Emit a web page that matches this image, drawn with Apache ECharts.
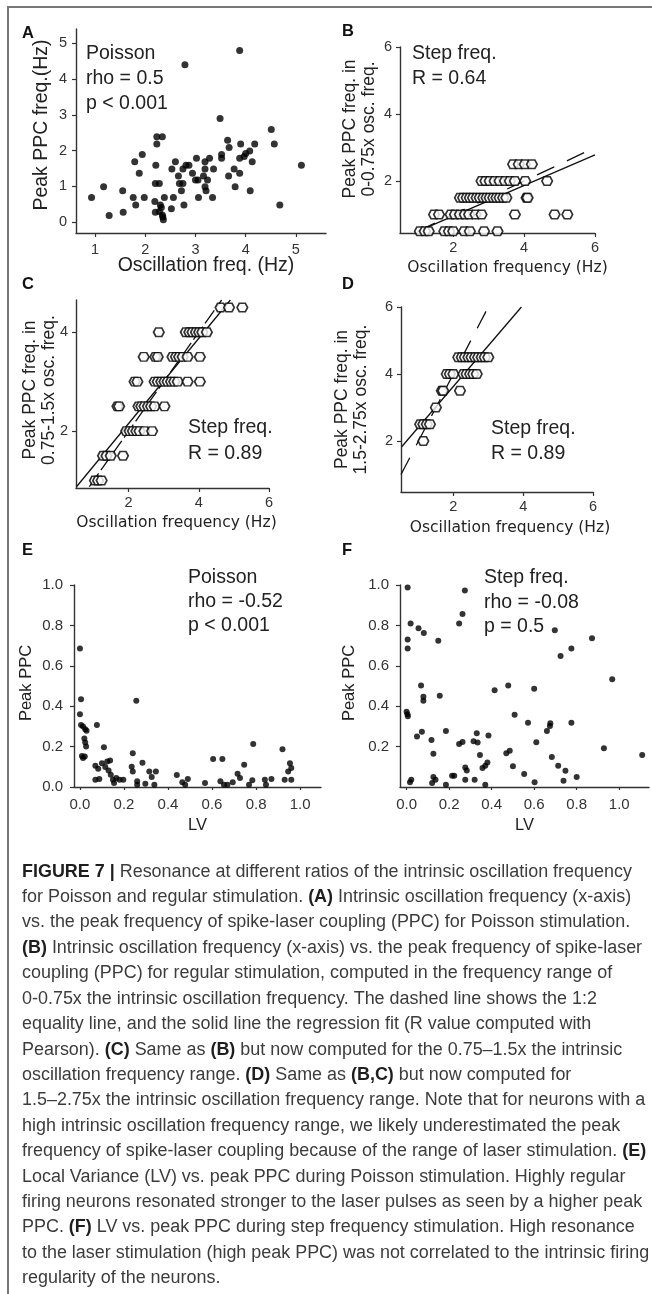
<!DOCTYPE html>
<html>
<head>
<meta charset="utf-8">
<script src="https://cdn.jsdelivr.net/npm/echarts@6/dist/echarts.min.js"></script>
<style>
  html, body { margin: 0; padding: 0; background: #fff; }
  #fig { width: 652px; height: 1294px; }
</style>
</head>
<body>
<div id="fig"></div>
<script>
// ---- data ----
// A: Poisson, oscillation freq vs peak PPC freq
var aOsc = [3.88,2.79,3.49,4.51,2.23,2.34,2.23,3.64,3.67,3.90,4.18,4.57,1.94,4.08,4.00,3.97,3.88,3.52,3.52,3.28,3.02,3.19,2.60,1.79,4.13,5.11,2.21,2.81,2.87,2.75,2.53,3.19,3.36,3.77,1.88,2.94,3.16,2.66,3.66,3.88,3.00,3.05,3.24,2.20,2.28,2.68,2.75,1.17,2.72,3.19,3.21,3.79,1.55,4.09,0.93,1.76,1.98,2.38,2.56,3.06,3.34,2.19,1.81,2.30,2.77,4.68,2.52,1.56,2.20,2.28,1.28,2.34,2.36,2.32,2.35];
var aPeak = [4.80,4.40,2.90,2.59,2.39,2.39,2.19,2.29,2.09,2.19,2.19,2.19,1.89,1.99,1.92,1.84,1.79,1.89,1.79,1.79,1.79,1.69,1.69,1.69,1.69,1.59,1.59,1.59,1.59,1.49,1.49,1.49,1.49,1.49,1.37,1.37,1.29,1.29,1.29,1.37,1.18,1.18,1.18,1.08,1.08,1.08,1.08,0.99,0.88,0.99,0.88,0.99,0.88,0.88,0.69,0.69,0.69,0.69,0.69,0.69,0.69,0.58,0.48,0.48,0.48,0.48,0.38,0.28,0.28,0.30,0.19,0.20,0.07,0.41,0.15];

// B: step freq, 0-0.75x range (one row of x values per peak level)
var bLevels = [2.5, 2.0, 1.5, 1.0, 0.5];
var bRows = [
  [3.69,3.85,4.02,4.22],
  [2.80,2.91,3.03,3.17,3.31,3.46,3.60,3.74,4.03,4.65],
  [2.19,2.28,2.38,2.47,2.56,2.66,2.75,2.85,2.94,3.03,3.13,3.22,3.31,3.41,3.50,4.07,4.10],
  [1.46,1.60,1.93,2.05,2.19,2.33,2.45,2.63,2.80,3.74,4.86,5.22],
  [1.06,1.20,1.31,1.75,1.88,2.00,2.31,2.47,2.87,3.25]
];
var bFitX = [1.0, 6.0], bFitY = [0.5, 2.78];
var bEqX = [1.0, 5.85], bEqY = [0.5, 2.925];

// C: step freq, 0.75-1.5x range
var cLevels = [4.5, 4.0, 3.5, 3.0, 2.5, 2.0, 1.5, 1.0];
var cRows = [
  [4.62,4.86,5.24],
  [2.86,3.63,3.73,3.82,3.92,4.01,4.10,4.23],
  [2.43,2.76,2.83,3.25,3.35,3.44,3.54,3.68,4.03],
  [2.17,2.25,2.74,2.83,2.93,3.02,3.11,3.21,3.30,3.40,3.68,4.03],
  [1.68,1.73,2.28,2.36,2.45,2.55,2.64,2.74,3.02],
  [1.93,2.03,2.12,2.22,2.31,2.45,2.67],
  [1.27,1.37,1.49,1.84],
  [1.04,1.13,1.23]
];
var cFitX = [0.52, 4.9], cFitY = [0.88, 4.65];
var cEqX = [0.88, 4.65], cEqY = [0.88, 4.65];

// D: step freq, 1.5-2.75x range
var dLevels = [4.5, 4.0, 3.5, 3.0, 2.5, 2.0];
var dRows = [
  [2.14,2.24,2.33,2.43,2.52,2.62,2.71,2.81,2.90,3.00],
  [1.81,1.90,2.00,2.29,2.38,2.48,2.57,2.67],
  [1.67,1.71,2.19],
  [1.50],
  [1.05,1.14,1.24,1.33],
  [1.14]
];
var dFitX = [0.52, 3.95], dFitY = [1.83, 6.0];
var dEqX = [0.5, 2.95], dEqY = [1.0, 5.9];

// E: Poisson, LV vs peak PPC
var eLV = [0.0,0.005,0.0,0.005,0.014,0.024,0.03,0.02,0.024,0.028,0.009,0.014,0.022,0.077,0.109,0.256,0.24,0.07,0.083,0.10,0.115,0.124,0.137,0.07,0.088,0.13,0.14,0.15,0.165,0.18,0.197,0.155,0.235,0.24,0.26,0.26,0.284,0.297,0.315,0.326,0.338,0.345,0.44,0.465,0.478,0.49,0.568,0.605,0.647,0.638,0.654,0.67,0.694,0.716,0.727,0.746,0.768,0.787,0.783,0.84,0.845,0.87,0.92,0.93,0.96,0.954,0.96,0.946];
var ePPC = [0.686,0.435,0.36,0.307,0.30,0.286,0.278,0.24,0.22,0.20,0.154,0.143,0.151,0.307,0.197,0.427,0.167,0.105,0.09,0.118,0.099,0.126,0.131,0.036,0.039,0.082,0.061,0.036,0.044,0.036,0.036,0.02,0.10,0.077,0.028,0.011,0.12,0.016,0.077,0.05,0.011,0.077,0.059,0.023,0.011,0.039,0.02,0.138,0.138,0.028,0.011,0.011,0.023,0.066,0.044,0.11,0.011,0.213,0.033,0.036,0.011,0.039,0.187,0.036,0.036,0.118,0.094,0.077];

// F: step freq, LV vs peak PPC
var fLV = [0.005,0.005,0.005,0.019,0.056,0.081,0.149,0.247,0.263,0.274,0.697,0.724,0.775,0.872,0.0,0.004,0.006,0.068,0.079,0.079,0.156,0.049,0.072,0.117,0.126,0.185,0.016,0.022,0.126,0.12,0.136,0.185,0.214,0.224,0.247,0.263,0.276,0.283,0.276,0.315,0.33,0.334,0.32,0.345,0.357,0.37,0.38,0.37,0.385,0.414,0.469,0.485,0.478,0.5,0.508,0.553,0.571,0.6,0.602,0.61,0.66,0.674,0.676,0.683,0.713,0.747,0.738,0.775,0.8,0.928,0.967,1.108];
var fPPC = [0.988,0.73,0.686,0.81,0.786,0.762,0.724,0.81,0.857,0.973,0.776,0.648,0.686,0.737,0.373,0.36,0.35,0.502,0.447,0.427,0.452,0.25,0.273,0.233,0.164,0.277,0.023,0.036,0.049,0.02,0.036,0.011,0.056,0.056,0.213,0.223,0.097,0.082,0.036,0.227,0.266,0.22,0.036,0.158,0.094,0.105,0.121,0.011,0.255,0.479,0.167,0.179,0.502,0.103,0.358,0.064,0.318,0.487,0.023,0.222,0.277,0.302,0.315,0.148,0.105,0.08,0.031,0.318,0.049,0.192,0.534,0.158];

// tick labels
var aXTicks = [1, 2, 3, 4, 5], aYTicks = [0, 1, 2, 3, 4, 5];
var stepXTicks = [2, 4, 6];
var bYTicks = [2, 4, 6], cYTicks = [2, 4], dYTicks = [2, 4, 6];
var lvXTicks = [0, 0.2, 0.4, 0.6, 0.8, 1.0];
var eYTicks = [0, 0.2, 0.4, 0.6, 0.8, 1.0], fYTicks = [0.2, 0.4, 0.6, 0.8, 1.0];

// caption lines ({b|..} = bold)
var caption = [
  '{b|FIGURE 7 |} Resonance at different ratios of the intrinsic oscillation frequency',
  'for Poisson and regular stimulation. {b|(A)} Intrinsic oscillation frequency (x-axis)',
  'vs. the peak frequency of spike-laser coupling (PPC) for Poisson stimulation.',
  '{b|(B)} Intrinsic oscillation frequency (x-axis) vs. the peak frequency of spike-laser',
  'coupling (PPC) for regular stimulation, computed in the frequency range of',
  '0-0.75x the intrinsic oscillation frequency. The dashed line shows the 1:2',
  'equality line, and the solid line the regression fit (R value computed with',
  'Pearson). {b|(C)} Same as {b|(B)} but now computed for the 0.75\u20131.5x the intrinsic',
  'oscillation frequency range. {b|(D)} Same as {b|(B,C)} but now computed for',
  '1.5\u20132.75x the intrinsic oscillation frequency range. Note that for neurons with a',
  'high intrinsic oscillation frequency range, we likely underestimated the peak',
  'frequency of spike-laser coupling because of the range of laser stimulation. {b|(E)}',
  'Local Variance (LV) vs. peak PPC during Poisson stimulation. Highly regular',
  'firing neurons resonated stronger to the laser pulses as seen by a higher peak',
  'PPC. {b|(F)} LV vs. peak PPC during step frequency stimulation. High resonance',
  'to the laser stimulation (high peak PPC) was not correlated to the intrinsic firing',
  'regularity of the neurons.'
];

// ---- helpers ----
var FONT = 'Liberation Sans';
var AX = '#333';
var CAP_FS = 17.95;

function zip(xs, ys) {
  return xs.map(function (x, i) { return [x, ys[i]]; });
}
function fromRows(levels, rows) {
  var out = [];
  levels.forEach(function (lv, i) {
    rows[i].forEach(function (x) { out.push([x, lv]); });
  });
  return out;
}
function pad(shift) {
  return shift >= 0 ? [0, 0, 0, 2 * shift] : [0, -2 * shift, 0, 0];
}
function axis(o) {
  return {
    type: 'value', gridIndex: o.grid, min: o.min, max: o.max,
    axisLine: { onZero: false, lineStyle: { color: AX, width: 1.4 } },
    axisTick: { show: true, length: o.tickLen || 4, customValues: o.ticks, lineStyle: { color: AX, width: 1.2 } },
    axisLabel: {
      customValues: o.ticks, margin: o.margin, color: '#333',
      fontSize: o.fs, fontFamily: FONT,
      formatter: o.fmt || function (v) { return String(v); }
    },
    splitLine: { show: false },
    name: o.name, nameLocation: 'middle', nameGap: o.gap, nameMoveOverlap: false,
    nameTextStyle: {
      fontSize: o.nfs, fontFamily: o.nfamily || FONT, color: '#222',
      lineHeight: o.nlh, padding: pad(o.shift || 0)
    }
  };
}
function fixed1(v) { return v.toFixed(1); }

function dots(xi, data, size) {
  return {
    type: 'scatter', xAxisIndex: xi, yAxisIndex: xi, data: data,
    symbol: 'circle', symbolSize: size, z: 3, silent: true,
    itemStyle: { color: '#000' }
  };
}
var HEX = 'path://M0,4 L2.6,0 L9.4,0 L12,4 L9.4,8 L2.6,8 Z';
function rings(xi, data) {
  return {
    type: 'scatter', xAxisIndex: xi, yAxisIndex: xi, data: data,
    symbol: HEX, symbolSize: [10.5, 8.5], z: 3, silent: true,
    itemStyle: { color: '#fff', borderColor: '#000', borderWidth: 1.6 }
  };
}
function fit(xi, xs, ys, dashed) {
  return {
    type: 'line', xAxisIndex: xi, yAxisIndex: xi, data: zip(xs, ys),
    showSymbol: false, z: 2, silent: true,
    lineStyle: { color: '#111', width: 1.3, type: dashed || 'solid' }
  };
}

// ---- text drawn on the page (letters, annotations, caption, frame) ----
function txt(s, x, y, size, weight, color) {
  return {
    type: 'text', silent: true,
    style: {
      text: s, x: x, y: y, fill: color || '#222',
      fontSize: size, fontFamily: FONT, fontWeight: weight || 'normal',
      align: 'left', verticalAlign: 'middle',
      textAlign: 'left', textVerticalAlign: 'middle'
    }
  };
}

var graphics = [
  { type: 'line', silent: true, shape: { x1: 7, y1: 7, x2: 652, y2: 7 }, style: { stroke: '#777', lineWidth: 2 } },
  { type: 'line', silent: true, shape: { x1: 8, y1: 6, x2: 8, y2: 1294 }, style: { stroke: '#777', lineWidth: 2 } },
  txt('A', 22, 33, 16.5, 'bold', '#111'),
  txt('B', 342, 31, 16.5, 'bold', '#111'),
  txt('C', 22, 284, 16.5, 'bold', '#111'),
  txt('D', 342, 284, 16.5, 'bold', '#111'),
  txt('E', 22, 550, 16.5, 'bold', '#111'),
  txt('F', 342, 550, 16.5, 'bold', '#111'),
  txt('Poisson', 86, 54, 19.5), txt('rho = 0.5', 86, 79, 19.5), txt('p < 0.001', 86, 104, 19.5),
  txt('Step freq.', 412, 54, 19.5), txt('R = 0.64', 412, 79, 19.5),
  txt('Step freq.', 188, 428, 19.5), txt('R = 0.89', 188, 453.5, 19.5),
  txt('Step freq.', 491, 429, 19.5), txt('R = 0.89', 491, 453.5, 19.5),
  txt('Poisson', 188, 577.5, 19.5), txt('rho = -0.52', 188, 601.5, 19.5), txt('p < 0.001', 188, 626, 19.5),
  txt('Step freq.', 484, 578, 19.5), txt('rho = -0.08', 484, 602.5, 19.5), txt('p = 0.5', 484, 627, 19.5)
];

caption.forEach(function (line, i) {
  var t = txt(line, 22, 871.7 + 25.41 * i, CAP_FS, 'normal', '#3c3c3c');
  t.style.rich = { b: { fontWeight: 'bold', fontSize: CAP_FS, fontFamily: FONT, fill: '#1e1e1e', color: '#1e1e1e' } };
  graphics.push(t);
});

// ---- chart ----
var myChart = echarts.init(document.getElementById('fig'));

var option = {
  animation: false,
  backgroundColor: '#fff',
  grid: [
    { left: 76, top: 29, width: 250, height: 204 },   // A
    { left: 400, top: 47, width: 195, height: 186 },  // B
    { left: 76, top: 300, width: 193, height: 188 },  // C
    { left: 401, top: 307, width: 192, height: 185 }, // D
    { left: 74, top: 585, width: 247, height: 202 },  // E
    { left: 400, top: 585, width: 249, height: 202 }  // F
  ],
  xAxis: [
    axis({ grid: 0, min: 0.62, max: 5.6, ticks: aXTicks, margin: 9, fs: 14.5,
           name: 'Oscillation freq. (Hz)', gap: 23, nfs: 19.5, shift: 5 }),
    axis({ grid: 1, min: 0.5, max: 6, ticks: stepXTicks, margin: 7, fs: 14.5,
           name: 'Oscillation frequency (Hz)', gap: 27, nfs: 15.5, nfamily: 'DejaVu Sans', shift: 10 }),
    axis({ grid: 2, min: 0.5, max: 6, ticks: stepXTicks, margin: 7, fs: 14.5,
           name: 'Oscillation frequency (Hz)', gap: 27, nfs: 15.5, nfamily: 'DejaVu Sans', shift: 4 }),
    axis({ grid: 3, min: 0.5, max: 6, ticks: stepXTicks, margin: 7, fs: 14.5,
           name: 'Oscillation frequency (Hz)', gap: 28, nfs: 15.5, nfamily: 'DejaVu Sans', shift: 13 }),
    axis({ grid: 4, min: -0.027, max: 1.095, ticks: lvXTicks, margin: 10, fs: 15, fmt: fixed1, tickLen: 3,
           name: 'LV', gap: 30, nfs: 16.5 }),
    axis({ grid: 5, min: -0.031, max: 1.14, ticks: lvXTicks, margin: 10, fs: 15, fmt: fixed1, tickLen: 3,
           name: 'LV', gap: 30, nfs: 16.5 })
  ],
  yAxis: [
    axis({ grid: 0, min: -0.3, max: 5.4, ticks: aYTicks, margin: 9, fs: 14.5,
           name: 'Peak PPC freq.(Hz)', gap: 24, nfs: 19.5, shift: 6 }),
    axis({ grid: 1, min: 0.45, max: 6, ticks: bYTicks, margin: 8, fs: 14.5,
           name: 'Peak PPC freq. in\n0-0.75x osc. freq.', gap: 21, nfs: 17.5, nlh: 19, shift: 11 }),
    axis({ grid: 2, min: 0.85, max: 4.65, ticks: cYTicks, margin: 8, fs: 14.5,
           name: 'Peak PPC freq. in\n0.75-1.5x osc. freq.', gap: 17, nfs: 17.5, nlh: 19, shift: 4 }),
    axis({ grid: 3, min: 0.48, max: 6, ticks: dYTicks, margin: 8, fs: 14.5,
           name: 'Peak PPC freq. in\n1.5-2.75x osc. freq.', gap: 30, nfs: 17.5, nlh: 19, shift: 0 }),
    axis({ grid: 4, min: 0, max: 1, ticks: eYTicks, margin: 11, fs: 15, fmt: fixed1,
           name: 'Peak PPC', gap: 39, nfs: 16.5, shift: 3 }),
    axis({ grid: 5, min: 0, max: 1, ticks: fYTicks, margin: 11, fs: 15, fmt: fixed1,
           name: 'Peak PPC', gap: 42, nfs: 16.5, shift: 3 })
  ],
  series: [
    dots(0, zip(aOsc, aPeak), 7),

    fit(1, bEqX, bEqY, [19, 14]),
    fit(1, bFitX, bFitY),
    rings(1, fromRows(bLevels, bRows)),

    fit(2, cEqX, cEqY, [16, 4]),
    fit(2, cFitX, cFitY),
    rings(2, fromRows(cLevels, cRows)),

    fit(3, dEqX, dEqY, [19, 14]),
    fit(3, dFitX, dFitY),
    rings(3, fromRows(dLevels, dRows)),

    dots(4, zip(eLV, ePPC), 6),
    dots(5, zip(fLV, fPPC), 6)
  ],
  graphic: graphics
};

myChart.setOption(option);
</script>
</body>
</html>
